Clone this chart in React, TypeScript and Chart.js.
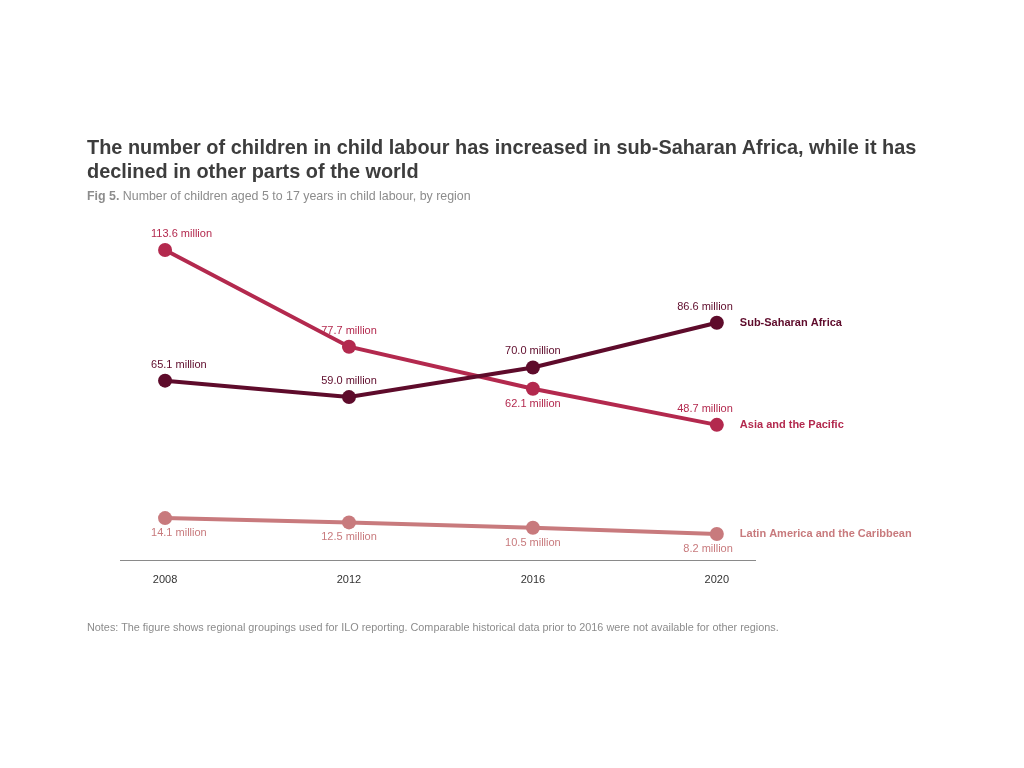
import React, { useEffect, useRef } from 'react';
import { Chart, registerables } from 'chart.js';
Chart.register(...registerables);

const years = [2008, 2012, 2016, 2020];
const seriesNames = ['Sub-Saharan Africa', 'Asia and the Pacific', 'Latin America and the Caribbean'];
const ssaValues = [65.1, 59.0, 70.0, 86.6];
const asiaValues = [113.6, 77.7, 62.1, 48.7];
const lacValues = [14.1, 12.5, 10.5, 8.2];
const seriesColors = ['#5e0b2b', '#b3294e', '#c87a7d'];

const titleText = 'The number of children in child labour has increased in sub-Saharan Africa, while it has declined in other parts of the world';
const figLabel = 'Fig 5.';
const subtitleText = ' Number of children aged 5 to 17 years in child labour, by region';
const notesText = 'Notes: The figure shows regional groupings used for ILO reporting. Comparable historical data prior to 2016 were not available for other regions.';

const FONT = '"Liberation Sans", Arial, Helvetica, sans-serif';

const labelPlugin = {
  id: 'pointLabels',
  afterDatasetsDraw(chart: any) {
    const ctx = chart.ctx;
    ctx.save();
    chart.data.datasets.forEach((ds: any, di: number) => {
      const meta = chart.getDatasetMeta(di);
      const n = meta.data.length;
      meta.data.forEach((pt: any, i: number) => {
        const v = ds.data[i].y;
        const below = ds.belowIdx.includes(i);
        ctx.font = `11px ${FONT}`;
        ctx.fillStyle = ds.borderColor;
        ctx.textBaseline = 'middle';
        let x = pt.x;
        if (i === 0) { ctx.textAlign = 'left'; x = pt.x - 14; }
        else if (i === n - 1) { ctx.textAlign = 'right'; x = pt.x + 16; }
        else ctx.textAlign = 'center';
        ctx.fillText(v.toFixed(1) + ' million', x, below ? pt.y + 15 : pt.y - 16);
      });
      const last = meta.data[n - 1];
      ctx.font = `bold 11px ${FONT}`;
      ctx.textAlign = 'left';
      ctx.textBaseline = 'middle';
      ctx.fillStyle = ds.borderColor;
      ctx.fillText(ds.label, last.x + 23, last.y);
    });
    ctx.restore();
  },
};

export default function App() {
  const ref = useRef<HTMLCanvasElement>(null);
  useEffect(() => {
    const mk = (vals: number[]) => vals.map((v, i) => ({ x: years[i], y: v }));
    const chart = new Chart(ref.current!, {
      type: 'line',
      data: {
        datasets: [
          { label: seriesNames[0], data: mk(ssaValues), borderColor: seriesColors[0], backgroundColor: seriesColors[0], belowIdx: [] } as any,
          { label: seriesNames[1], data: mk(asiaValues), borderColor: seriesColors[1], backgroundColor: seriesColors[1], belowIdx: [2] } as any,
          { label: seriesNames[2], data: mk(lacValues), borderColor: seriesColors[2], backgroundColor: seriesColors[2], belowIdx: [0, 1, 2, 3] } as any,
        ],
      },
      options: {
        animation: false,
        responsive: false,
        maintainAspectRatio: false,
        layout: { padding: { left: 120, right: 269, top: 230, bottom: 168 } },
        elements: {
          line: { borderWidth: 4, tension: 0 },
          point: { radius: 7, hoverRadius: 7, borderWidth: 0 },
        },
        plugins: { legend: { display: false }, tooltip: { enabled: false }, title: { display: false } },
        scales: {
          x: {
            type: 'linear',
            min: 2007.02,
            max: 2020.83,
            afterBuildTicks: (s: any) => { s.ticks = years.map((v) => ({ value: v })); },
            afterFit: (s: any) => { s.height = 40; },
            grid: { display: false, drawTicks: false },
            border: { display: true, color: '#8a8a8a', width: 1 },
            ticks: {
              padding: 13,
              color: '#333333',
              font: { family: FONT, size: 11 },
              callback: (v: any) => String(v),
              maxRotation: 0,
            },
          },
          y: { display: false, min: -1.45, max: 121 },
        },
      },
      plugins: [labelPlugin],
    } as any);
    return () => chart.destroy();
  }, []);

  return (
    <div style={{ position: 'fixed', left: 0, top: 0, width: 1024, height: 768, background: '#fff', fontFamily: FONT }}>
      <canvas ref={ref} width={1024} height={768} style={{ position: 'absolute', left: 0, top: 0 }} />
      <div style={{ position: 'absolute', left: 87, top: 135, width: 880, fontSize: 19.9, lineHeight: '24px', fontWeight: 'bold', color: '#3d3d3d' }}>
        {titleText}
      </div>
      <div style={{ position: 'absolute', left: 87, top: 188, fontSize: 12.4, lineHeight: '16px', color: '#8c8c8c', whiteSpace: 'nowrap' }}>
        <b>{figLabel}</b>{subtitleText}
      </div>
      <div style={{ position: 'absolute', left: 87, top: 619, fontSize: 10.85, lineHeight: '16px', color: '#8c8c8c', whiteSpace: 'nowrap' }}>
        {notesText}
      </div>
    </div>
  );
}
